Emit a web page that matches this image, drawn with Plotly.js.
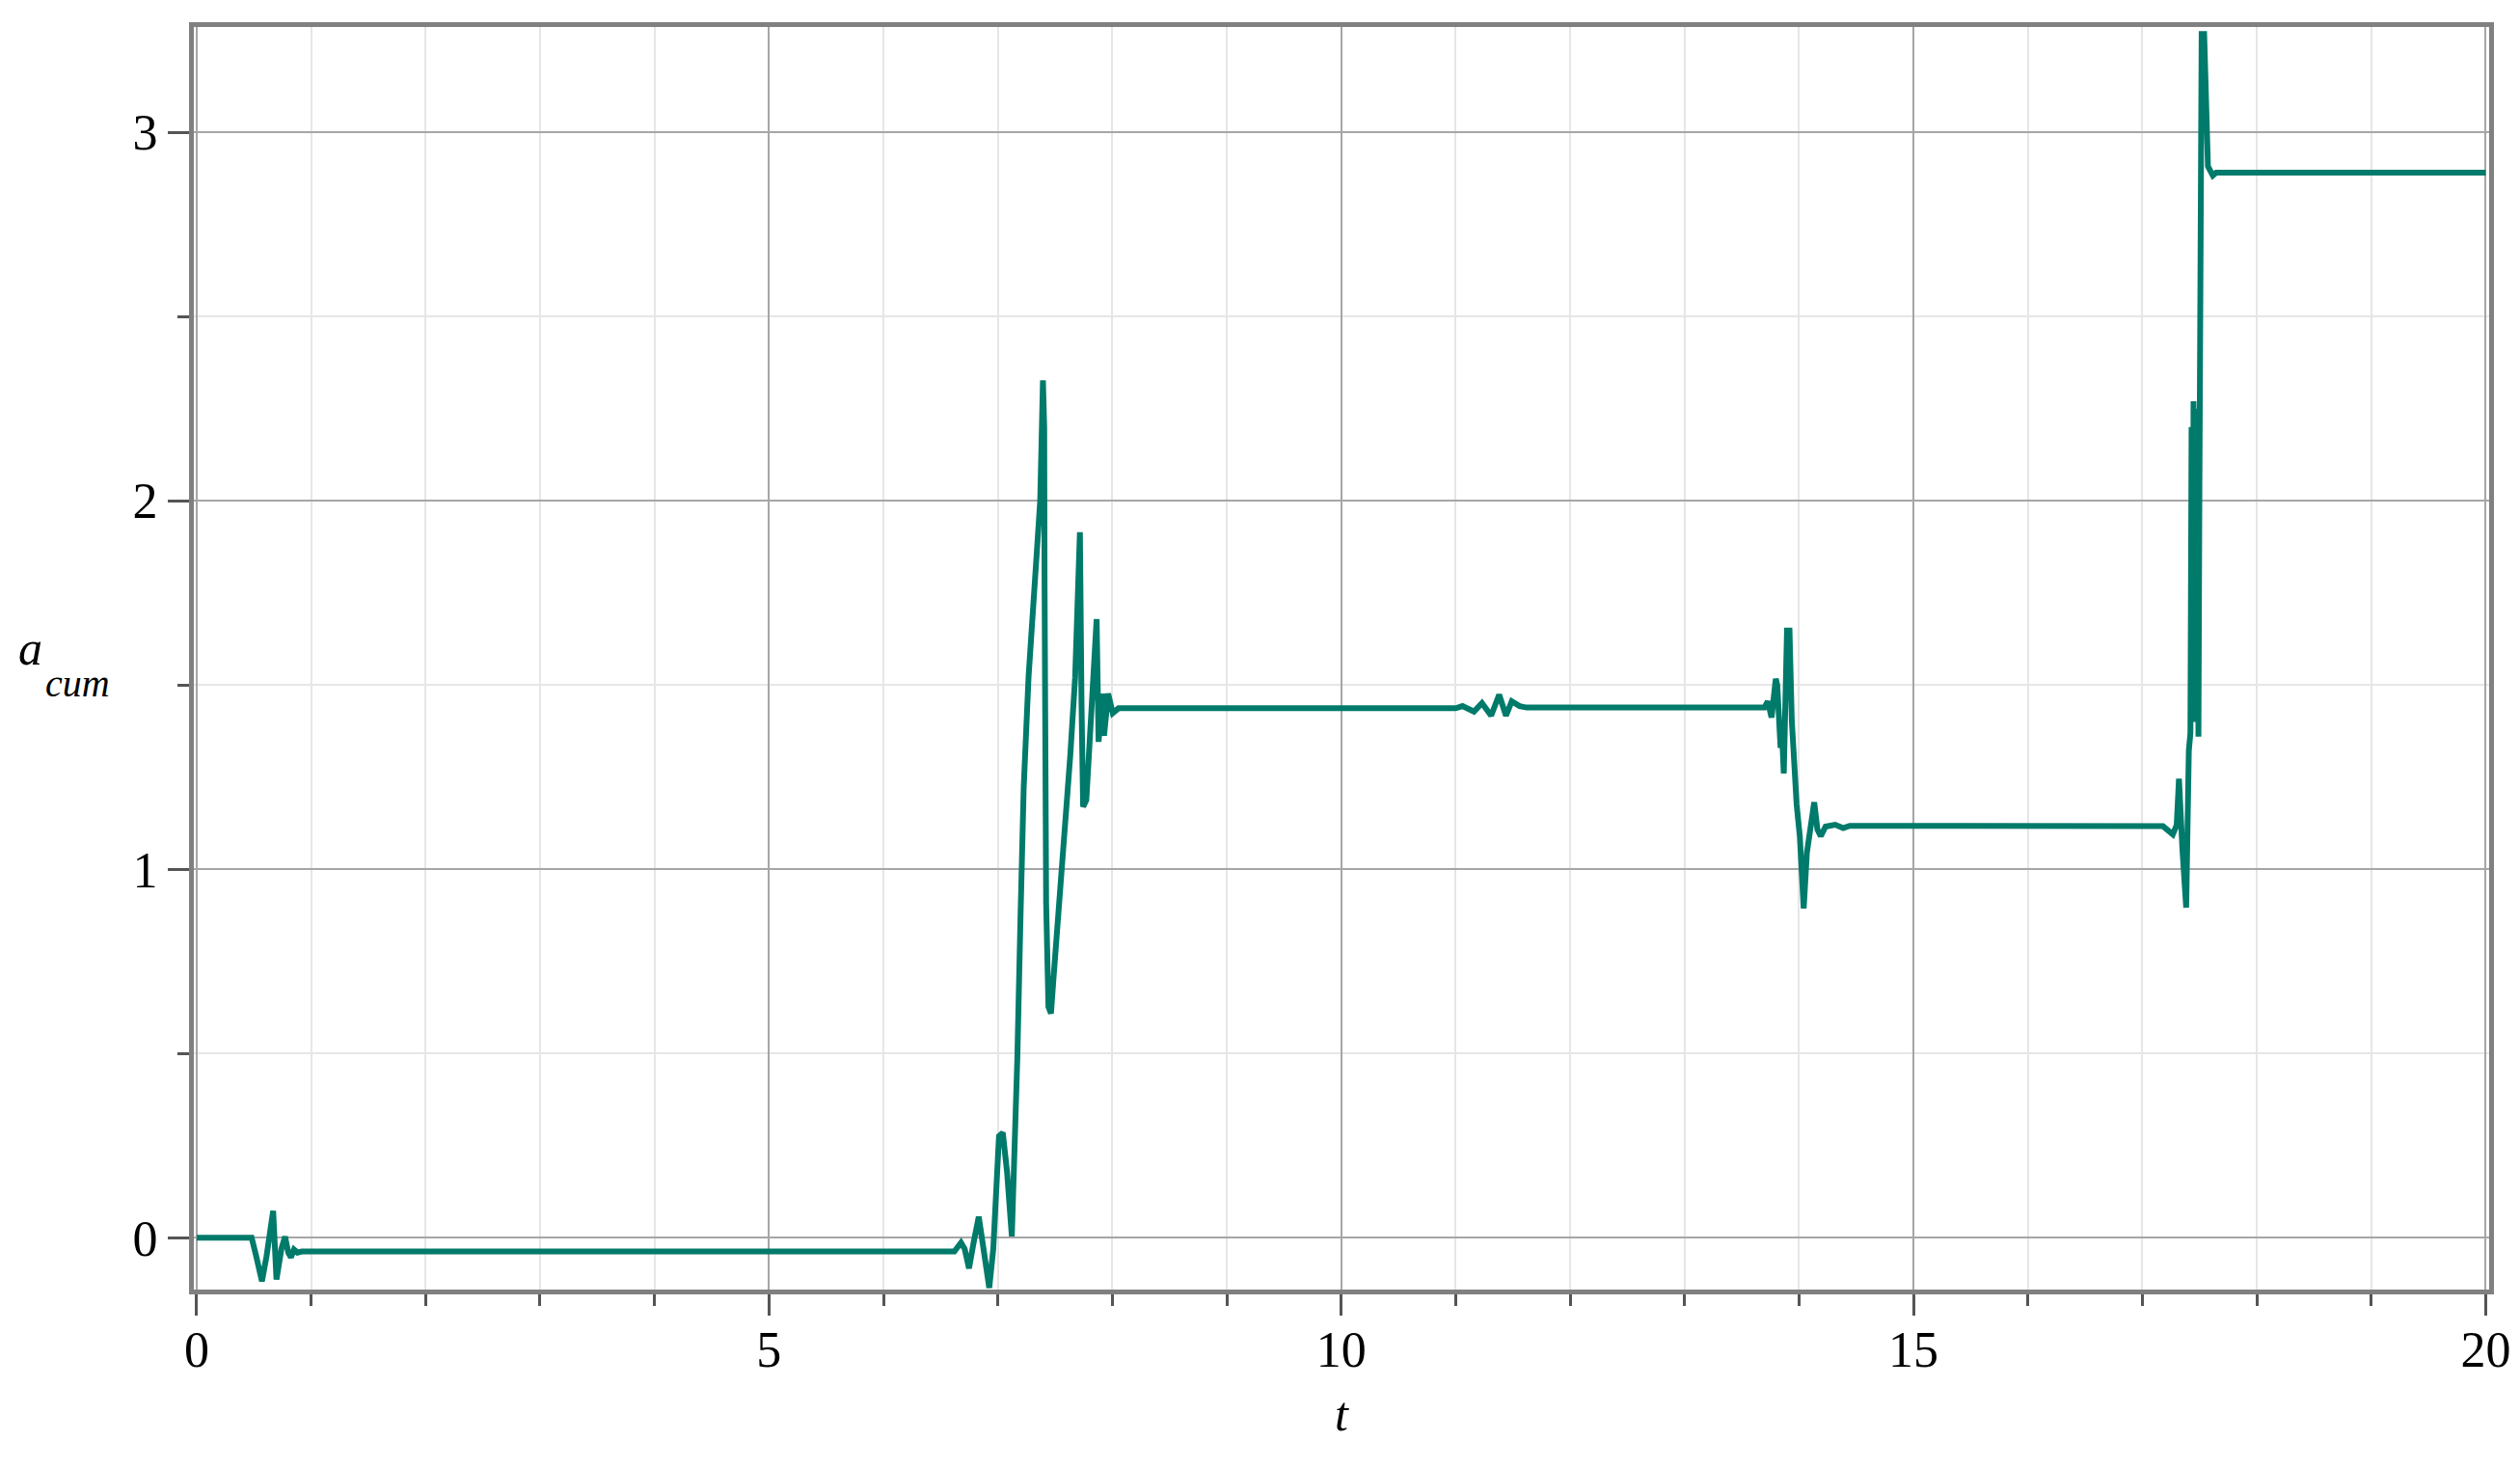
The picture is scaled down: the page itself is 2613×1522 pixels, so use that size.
<!DOCTYPE html>
<html>
<head>
<meta charset="utf-8">
<script src="https://cdn.plot.ly/plotly-3.0.1.min.js"></script>
<style>html,body{margin:0;padding:0;background:#fff;}#chart{width:2613px;height:1522px;}</style>
</head>
<body>
<div id="chart"></div>
<script>
// time values (t)
const tValues = [
  0, 0.48, 0.52, 0.57, 0.61, 0.668, 0.697, 0.74, 0.772, 0.80, 0.823, 0.85, 0.88, 0.92,
  6.62, 6.678, 6.71, 6.748, 6.79, 6.833, 6.87, 6.925, 6.96, 7.01, 7.043, 7.08, 7.122, 7.14,
  7.17, 7.198, 7.226, 7.268, 7.31, 7.346, 7.37, 7.394, 7.405, 7.408, 7.422, 7.442, 7.464,
  7.49, 7.52, 7.577, 7.633, 7.675, 7.705, 7.717, 7.731, 7.745, 7.773, 7.815, 7.855, 7.863,
  7.88, 7.914, 7.928, 7.964, 8.004, 8.054,
  11.0, 11.06, 11.16, 11.23, 11.31, 11.38, 11.44, 11.49, 11.56, 11.62,
  13.698, 13.727, 13.76, 13.797, 13.81, 13.839, 13.85, 13.867, 13.895, 13.917, 13.937,
  13.951, 13.979, 14.007, 14.041, 14.069, 14.105, 14.133, 14.161, 14.19, 14.232, 14.316,
  14.386, 14.443,
  17.18, 17.266, 17.30, 17.32, 17.35, 17.383, 17.406, 17.42, 17.43, 17.44, 17.447, 17.455,
  17.465, 17.473, 17.48, 17.49, 17.498, 17.504, 17.518, 17.54, 17.56, 17.573, 17.616,
  17.645, 20
];
// cumulative a values (a_cum)
const aCum = [
  0, 0, -0.05, -0.118, -0.05, 0.073, -0.113, -0.03, 0.003, -0.04, -0.053, -0.032, -0.04, -0.037,
  -0.037, -0.013, -0.03, -0.083, -0.01, 0.057, -0.02, -0.136, -0.03, 0.276, 0.285, 0.18, 0.004, 0.15,
  0.486, 0.872, 1.223, 1.521, 1.731, 1.872, 2.0, 2.327, 2.20, 1.784, 0.907, 0.627, 0.609,
  0.72, 0.837, 1.083, 1.31, 1.52, 1.75, 1.915, 1.451, 1.17, 1.188, 1.433, 1.679, 1.679,
  1.346, 1.477, 1.363, 1.477, 1.424, 1.437,
  1.437, 1.443, 1.428, 1.451, 1.417, 1.474, 1.417, 1.456, 1.443, 1.439,
  1.439, 1.456, 1.412, 1.517, 1.50, 1.33, 1.38, 1.26, 1.648, 1.648, 1.404,
  1.299, 1.177, 1.09, 0.894, 1.046, 1.125, 1.182, 1.108, 1.09, 1.116, 1.121,
  1.112, 1.118,
  1.117, 1.095, 1.12, 1.246, 1.055, 0.896, 1.322, 1.37, 2.20, 1.40, 2.27, 1.45,
  2.25, 1.40, 2.2, 1.36, 2.0, 2.657, 3.267, 3.267, 3.008, 2.908, 2.883,
  2.891, 2.891
];
const xTickVals = [0, 5, 10, 15, 20];
const xTickText = ["0", "5", "10", "15", "20"];
const yTickVals = [0, 1, 2, 3];
const yTickText = ["0", "1", "2", "3"];

const serif = "Liberation Serif, Times New Roman, serif";
const tickFont = {family: serif, size: 52, color: "#000"};

const trace = {
  x: tValues, y: aCum, type: "scatter", mode: "lines",
  line: {color: "#007a6a", width: 6},
  hoverinfo: "skip", showlegend: false
};

const layout = {
  width: 2613, height: 1522,
  paper_bgcolor: "#fff", plot_bgcolor: "#fff",
  margin: {l: 201, r: 32, t: 28, b: 185},
  xaxis: {
    range: [-0.025, 20.03], tickvals: xTickVals, ticktext: xTickText,
    ticks: "outside", ticklen: 22, tickwidth: 3, tickcolor: "#555",
    showgrid: true, gridcolor: "#a6a6a6", gridwidth: 2,
    zeroline: false, showline: true, linecolor: "#808080", linewidth: 5, mirror: true,
    tickfont: tickFont, ticklabelstandoff: -9,
    minor: {dtick: 1, tick0: 0, ticks: "outside", ticklen: 12, tickwidth: 3, tickcolor: "#555",
            showgrid: true, gridcolor: "#e6e6e6", gridwidth: 2},
    title: {text: "<i>t</i>", font: {family: serif, size: 50, color: "#000"}, standoff: 22}
  },
  yaxis: {
    range: [-0.1405, 3.286], tickvals: yTickVals, ticktext: yTickText,
    ticks: "outside", ticklen: 22, tickwidth: 3, tickcolor: "#555",
    showgrid: true, gridcolor: "#a6a6a6", gridwidth: 2,
    zeroline: false, showline: true, linecolor: "#808080", linewidth: 5, mirror: true,
    tickfont: tickFont, ticklabelstandoff: 0,
    minor: {dtick: 0.5, tick0: 0, ticks: "outside", ticklen: 12, tickwidth: 3, tickcolor: "#555",
            showgrid: true, gridcolor: "#e6e6e6", gridwidth: 2}
  },
  annotations: [
    {text: "<i>a</i>", xref: "paper", yref: "paper", x: (31 - 201) / 2380, y: (1336.7 - 672) / 1309,
     xanchor: "center", yanchor: "middle", showarrow: false,
     font: {family: serif, size: 50, color: "#000"}},
    {text: "<i>cum</i>", xref: "paper", yref: "paper", x: (80 - 201) / 2380, y: (1336.7 - 708) / 1309,
     xanchor: "center", yanchor: "middle", showarrow: false,
     font: {family: serif, size: 40, color: "#000"}}
  ]
};

Plotly.newPlot("chart", [trace], layout, {staticPlot: true, displayModeBar: false});
</script>
</body>
</html>
